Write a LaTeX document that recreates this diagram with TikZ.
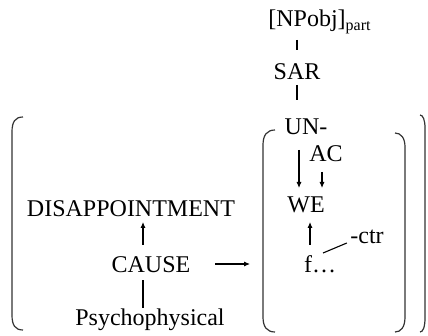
\documentclass[tikz,border=0pt]{standalone}
\usepackage{fontspec}
\setmainfont{Liberation Serif}
\usetikzlibrary{arrows.meta}
\tikzset{
    word/.style={anchor=base, inner sep=0pt, outer sep=0pt, text height=8pt, text depth=2.5pt,
                 font=\fontsize{12}{14}\selectfont},
    link/.style={line width=0.55pt},
    arr/.style={line width=0.55pt, -{Latex[length=3pt,width=2.6pt]}},
    brk/.style={line width=0.6pt, black!80}
}
\begin{document}
\begin{tikzpicture}[x=0.5pt, y=-0.5pt]
    \useasboundingbox (0,0) rectangle (428,336);

    % top chain
    \node[word] (np)  at (320,27)  {[NPobj]\textsubscript{part}};
    \node[word] (sar) at (297,80)  {SAR};
    \node[word] (un)  at (306,135) {UN-};
    \draw[link, shorten <=4pt, shorten >=7pt] (sar.north |- np.south) -- (sar.north);
    \draw[link, shorten <=0pt, shorten >=9.5pt] (sar.south) -- (sar.south |- un.north);

    % inner group
    \node[word] (ac)  at (326,162) {AC};
    \node[word] (we)  at (306,213) {WE};
    \node[word] (f)   at (320,272) {f\ldots};
    \node[word] (ctr) at (367,243) {-ctr};
    \draw[arr, shorten <=5pt, shorten >=4.5pt] ([xshift=-3.5pt]un.south) -- ([xshift=-3.5pt]un.south |- we.north);
    \draw[arr, shorten <=2.5pt, shorten >=4.5pt] ([xshift=-2pt]ac.south) -- ([xshift=-2pt]ac.south |- we.north);
    \draw[arr, shorten <=5.5pt, shorten >=2pt] ([xshift=-5pt]f.north) -- ([xshift=-5pt]f.north |- we.south);
    \draw[link] ([xshift=1.5pt,yshift=1.5pt]f.north) -- ([xshift=-1.75pt,yshift=2.5pt]ctr.south west);

    % left group
    \node[word] (dis)   at (131,217) {DISAPPOINTMENT};
    \node[word] (cause) at (151,272) {CAUSE};
    \node[word] (psy)   at (150,325) {Psychophysical};
    \draw[arr, shorten <=5.5pt] ([xshift=-4pt]cause.north) -- ([xshift=-4pt]cause.north |- dis.south);
    \draw[link, shorten <=1.5pt, shorten >=0.5pt] ([xshift=-4pt]cause.south) -- ([xshift=-4pt]cause.south |- psy.north);

    % brackets
    \draw[brk] (23,117) .. controls (15,117) and (12,122) .. (12,132) -- (12,315)
               .. controls (12,325) and (15,330) .. (23,330);
    \draw[brk] (420,115) .. controls (423,115) and (425,120) .. (425,128) -- (425,318)
               .. controls (425,327) and (423,332) .. (420,332);
    \draw[brk] (275,130) .. controls (267,130) and (263,135) .. (263,145) -- (263,317)
               .. controls (263,327) and (267,332) .. (275,332);
    \draw[brk] (395,133) .. controls (401,133) and (405,138) .. (405,147) -- (405,317)
               .. controls (405,327) and (401,332) .. (395,332);
    \coordinate (inner) at (263,264);

    \draw[arr, shorten <=12.5pt, shorten >=6.5pt] ([yshift=1.25pt]cause.east) -- ([yshift=1.25pt]cause.east -| inner);
\end{tikzpicture}
\end{document}
